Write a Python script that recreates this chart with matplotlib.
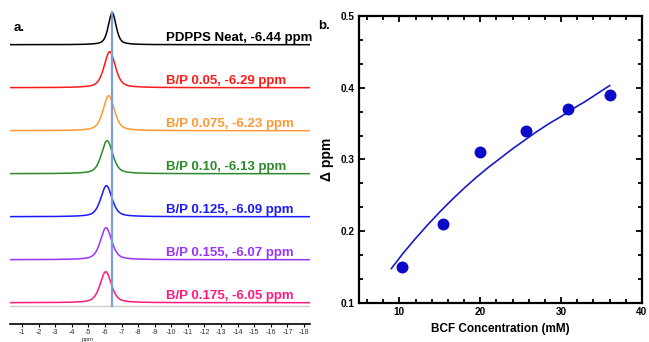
import numpy as np
import matplotlib
matplotlib.use("Agg")
import matplotlib.pyplot as plt
from matplotlib.ticker import AutoMinorLocator, MultipleLocator, FormatStrFormatter

plt.rcParams['font.family'] = ['Liberation Sans', 'DejaVu Sans']

# ---- Panel a data: NMR spectra ----
labels = ["PDPPS Neat, -6.44 ppm", "B/P 0.05, -6.29 ppm", "B/P 0.075, -6.23 ppm",
          "B/P 0.10, -6.13 ppm", "B/P 0.125, -6.09 ppm", "B/P 0.155, -6.07 ppm",
          "B/P 0.175, -6.05 ppm"]
shifts = [-6.44, -6.29, -6.23, -6.13, -6.09, -6.07, -6.05]
peak_heights = [32, 36, 35, 33, 31, 32, 31]
peak_widths = [0.55, 0.8, 0.8, 0.8, 0.8, 0.8, 0.8]
colors = ["#000000", "#ff1a1a", "#ff9933", "#2a8a2a", "#1a1aff", "#9933ff", "#ff1a80"]
ref_shift = -6.44
ppm_ticks = list(range(-1, -19, -1))

# ---- Panel b data ----
bcf_conc = [10.3, 15.4, 20.0, 25.6, 30.8, 36.0]
delta_ppm = [0.15, 0.21, 0.31, 0.34, 0.37, 0.39]
fit_x = [9, 10.5, 12, 13.5, 15, 16.5, 18, 19.5, 21, 22.5, 24, 25.5, 27, 28.5,
         30, 31.5, 33, 34.5, 36]
fit_y = [0.148, 0.170, 0.190, 0.209, 0.227, 0.244, 0.260, 0.275, 0.289, 0.302,
         0.315, 0.327, 0.339, 0.350, 0.360, 0.371, 0.381, 0.392, 0.403]

W, H = 649, 342
fig = plt.figure(figsize=(W / 100, H / 100), dpi=100)

# ---------------- Panel a ----------------
axa = fig.add_axes([10 / W, 18 / H, 300 / W, 319 / H])
x = np.linspace(-0.28, -18.36, 4000)
spacing = 43.0
base0 = 21.3
n = len(labels)
for i in range(n):
    base = base0 + (n - 1 - i) * spacing
    hw = peak_widths[i] / 2
    lor = hw**2 / ((x - shifts[i])**2 + hw**2)
    gau = np.exp(-np.log(2) * ((x - shifts[i]) / hw)**2)
    y = base + peak_heights[i] * (0.5 * lor + 0.5 * gau)
    axa.plot(x, y, color=colors[i], lw=1.1)
    axa.text(-9.68, base + 3.5, labels[i], color=colors[i], fontsize=9.5,
             fontweight='bold', ha='left', va='baseline')
axa.axhline(18, color="#d0d0d0", lw=1.0)
axa.plot([ref_shift, ref_shift], [18, 312], color="#7b9fd8", lw=1.6, zorder=5)
axa.set_xlim(-0.28, -18.36)
axa.set_ylim(0, 319)
for s in ['top', 'left', 'right']:
    axa.spines[s].set_visible(False)
axa.spines['bottom'].set_linewidth(1.2)
axa.set_yticks([])
axa.set_xticks(ppm_ticks)
axa.set_xticklabels([str(t) for t in ppm_ticks])
axa.tick_params(axis='x', direction='out', length=2.5, width=0.8, labelsize=5.2,
                labelcolor="#333333", pad=1.0)
fig.text(88 / W, 0.5 / H, "ppm", fontsize=4.5, color="#333333", ha='center', va='bottom')
fig.text(14 / W, 1 - 28 / H, "a.", fontsize=9.5, fontweight='bold', va='center')

# ---------------- Panel b ----------------
axb = fig.add_axes([359 / W, 39 / H, 283 / W, 287 / H])
axb.plot(fit_x, fit_y, color="#1a1acc", lw=1.2)
axb.plot(bcf_conc, delta_ppm, 'o', color="#0a0ac8", markersize=8.6, mec='none')
axb.set_xlim(5, 40)
axb.set_ylim(0.1, 0.5)
axb.xaxis.set_major_locator(MultipleLocator(10))
axb.xaxis.set_minor_locator(AutoMinorLocator(5))
axb.yaxis.set_major_locator(MultipleLocator(0.1))
axb.yaxis.set_minor_locator(AutoMinorLocator(3))
axb.yaxis.set_major_formatter(FormatStrFormatter('%.1f'))
for s in axb.spines.values():
    s.set_linewidth(1.6)
axb.tick_params(which='both', direction='in', top=True, right=True, width=1.3)
axb.tick_params(which='major', length=4.5, labelsize=7.2, pad=3)
axb.tick_params(which='minor', length=3)
axb.set_xlabel("BCF Concentration (mM)", fontsize=8.5, fontweight='bold', labelpad=4)
axb.set_ylabel("Δ ppm", fontsize=10, fontweight='bold', labelpad=5)
for lab in axb.get_xticklabels() + axb.get_yticklabels():
    lab.set_fontweight('bold')
fig.text(318 / W, 1 - 26 / H, "b.", fontsize=9.5, fontweight='bold', va='center')

fig.savefig("out.png", dpi=100)
